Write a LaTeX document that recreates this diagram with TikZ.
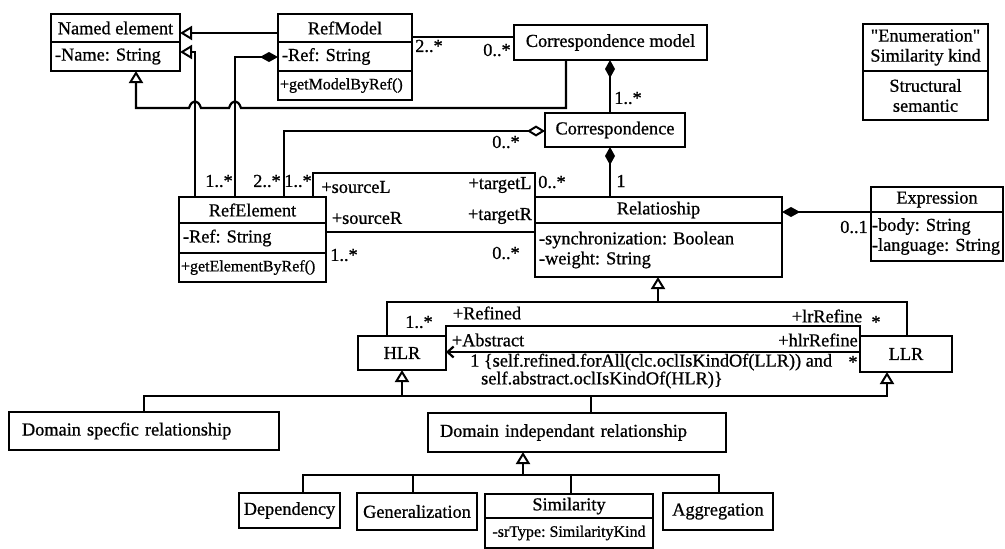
\documentclass[tikz,border=0pt]{standalone}
\usepackage{fontspec}
\setmainfont{Liberation Serif}[FakeBold=0.8]
\usetikzlibrary{arrows.meta}
\frenchspacing

\newcommand\umlfont{\fontsize{18.3}{20}\selectfont}
\newcommand\umlsmall{\fontsize{16}{17}\selectfont}

\tikzset{
	cell/.style={draw, line width=2.3pt, anchor=north west, inner sep=0pt, outer sep=0pt, font=\umlfont},
	lcell/.style={cell, inner xsep=4pt, align=left},
	lbl/.style={inner sep=0pt, font=\umlfont},
	link/.style={line width=2.2pt},
	gen/.style={link, -{Triangle[open, length=12pt, width=14pt, line width=2pt]}},
	comp/.style={link, -{Diamond[length=18pt, width=10pt]}},
	agg/.style={link, -{Diamond[open, length=18pt, width=11pt, line width=2pt]}},
	nav/.style={link, -{Straight Barb[length=6pt, width=11pt]}},
}

\begin{document}
\begin{tikzpicture}[x=1pt,y=-1pt]
\useasboundingbox (0,0) rectangle (1005,549);

\node[cell, minimum width=129pt, minimum height=28pt] (namedT) at (51,14) {Named element};
\node[lcell, text width=121pt, minimum height=29pt] (namedA) at (namedT.south west) {-Name: String};

\node[cell, minimum width=134pt, minimum height=28pt] (rmT) at (278,14) {RefModel};
\node[lcell, text width=126pt, minimum height=29pt] (rmA) at (rmT.south west) {-Ref: String};
\node[lcell, inner xsep=2pt, text width=130pt, minimum height=29pt, font=\umlsmall] (rmO) at (rmA.south west) {+getModelByRef()};

\node[cell, minimum width=193pt, minimum height=35pt] (cm) at (514,25) {Correspondence model};
\node[cell, minimum width=140pt, minimum height=34pt] (corr) at (545,113) {Correspondence};

\node[cell, minimum width=125pt, minimum height=47pt, align=center] (enT) at (863,24) {\textquotedbl Enumeration\textquotedbl\\Similarity kind};
\node[cell, minimum width=125pt, minimum height=49pt, align=center] (enA) at (enT.south west) {Structural\\semantic};

\node[cell, minimum width=147pt, minimum height=26pt] (reT) at (179,197) {RefElement};
\node[lcell, text width=139pt, minimum height=30pt] (reA) at (reT.south west) {-Ref: String};
\node[lcell, inner xsep=2pt, text width=143pt, minimum height=29pt, font=\umlsmall] (reO) at (reA.south west) {+getElementByRef()};

\node[cell, minimum width=247pt, minimum height=26pt] (relT) at (535,197) {Relatioship};
\node[lcell, text width=239pt, minimum height=54pt] (relA) at (relT.south west) {-synchronization: Boolean\\-weight: String};

\node[cell, minimum width=132pt, minimum height=25pt] (exT) at (871,187) {Expression};
\node[lcell, inner xsep=1pt, text width=130pt, minimum height=49pt] (exA) at (exT.south west) {-body: String\\-language: String};

\node[cell, minimum width=88pt, minimum height=34pt] (hlr) at (358,336) {HLR};
\node[cell, minimum width=92pt, minimum height=36pt] (llr) at (860,336) {LLR};

\node[lcell, inner xsep=13pt, text width=244pt, minimum height=38pt] (dsr) at (9,412) {Domain specfic relationship};
\node[lcell, inner xsep=12pt, text width=274pt, minimum height=39pt] (dir) at (428,413) {Domain independant relationship};

\node[cell, minimum width=101pt, minimum height=35pt] (dep) at (239,493) {Dependency};
\node[cell, minimum width=120pt, minimum height=37pt] (gnz) at (357,493) {Generalization};
\node[cell, minimum width=168pt, minimum height=24pt] (simT) at (485,494) {Similarity};
\node[cell, minimum width=168pt, minimum height=30pt, font=\umlsmall] (simA) at (simT.south west) {-srType: SimilarityKind};
\node[cell, minimum width=110pt, minimum height=37pt] (agg) at (663,493) {Aggregation};

\coordinate (jr) at (658,302);
\coordinate (jb) at (591,396);
\coordinate (jd) at (523,475);

\draw[gen] (rmT.west |- 0,33) -- (namedT.east |- 0,33);
\draw[gen] (reT.north -| 195,0) |- (namedA.east |- 0,52);
\draw[gen] (cm.south -| 566,0) -- (566,108) -- (241,108) .. controls (238,99) and (232,99) .. (229,108) -- (201,108) .. controls (198,99) and (192,99) .. (189,108) -| (namedA.south -| 136,0);
\draw[comp] (reT.north -| 235,0) |- (rmA.west |- 0,57);
\draw[agg] (reT.north -| 284,0) |- (corr.west |- 0,131);
\draw[link] (reT.north -| 313,0) -- (313,173) -| (relT.north west);
\draw[link] (reA.east |- 0,232) -- (relA.west |- 0,232);
\draw[link] (rmT.east |- 0,37) -- (cm.west |- 0,37);
\draw[comp] (corr.north -| 610,0) -- (cm.south -| 610,0);
\draw[comp] (relT.north -| 610,0) -- (corr.south -| 610,0);
\draw[comp] (exA.north west) -- (relT.east |- exA.north west);

\draw[gen] (jr) -- (relA.south -| jr);
\draw[link] (hlr.north -| 387,0) |- (jr) -| (llr.north -| 907,0);
\draw[link] (hlr.north east) -- ++(0,-10) -| (llr.north west);
\draw[nav] (llr.west |- 0,352) -- (hlr.east |- 0,352);

\draw[gen] (jb) -| (hlr.south -| 402,0);
\draw[gen] (jb) -| (llr.south -| 887,0);
\draw[link] (dir.north -| jb) -- (jb);
\draw[link] (dsr.north -| 144,0) |- (jb);

\draw[gen] (jd) -- (dir.south -| jd);
\draw[link] (dep.north -| 303,0) |- (jd);
\draw[link] (gnz.north -| 413,0) |- (jd);
\draw[link] (simT.north -| 571,0) |- (jd);
\draw[link] (agg.north -| 719,0) |- (jd);

\node[lbl] (mRmCm) at (429,46) {2..*};
\node[lbl] (mCmRm) at (497,50) {0..*};
\node[lbl] (mCmCo) at (628,98) {1..*};
\node[lbl] (mCoRe) at (506,142) {0..*};
\node[lbl] (mCoRel) at (621,181) {1};
\node[lbl] (mRmRe) at (219,181) {1..*};
\node[lbl] (mReCo) at (267,181) {2..*};
\node[lbl] (mSrcL) at (298,181) {1..*};
\node[lbl] (rSrcL) at (356,187) {+sourceL};
\node[lbl] (rTgtL) at (500,185) {+targetL};
\node[lbl] (mTgtL) at (552,182) {0..*};
\node[lbl] (rSrcR) at (367,218) {+sourceR};
\node[lbl] (rTgtR) at (500,216) {+targetR};
\node[lbl] (mSrcR) at (344,255) {1..*};
\node[lbl] (mTgtR) at (506,253) {0..*};
\node[lbl] (mExp) at (854,227) {0..1};
\node[lbl] (rRef) at (487,313) {+Refined};
\node[lbl] (mRef) at (419,322) {1..*};
\node[lbl] (rLr) at (827,316) {+lrRefine};
\node[lbl] (mLr) at (876,322) {*};
\node[lbl] (rAbs) at (488,340) {+Abstract};
\node[lbl] (rHlr) at (818,340) {+hlrRefine};
\node[lbl] (mHlr) at (853,362) {*};
\node[lbl, anchor=west, align=left, font=\fontsize{18.3}{16}\selectfont] (ocl) at (470,371) {1 \{self.refined.forAll(clc.oclIsKindOf(LLR)) and\\\hspace*{11pt}self.abstract.oclIsKindOf(HLR)\}};
\end{tikzpicture}
\end{document}
